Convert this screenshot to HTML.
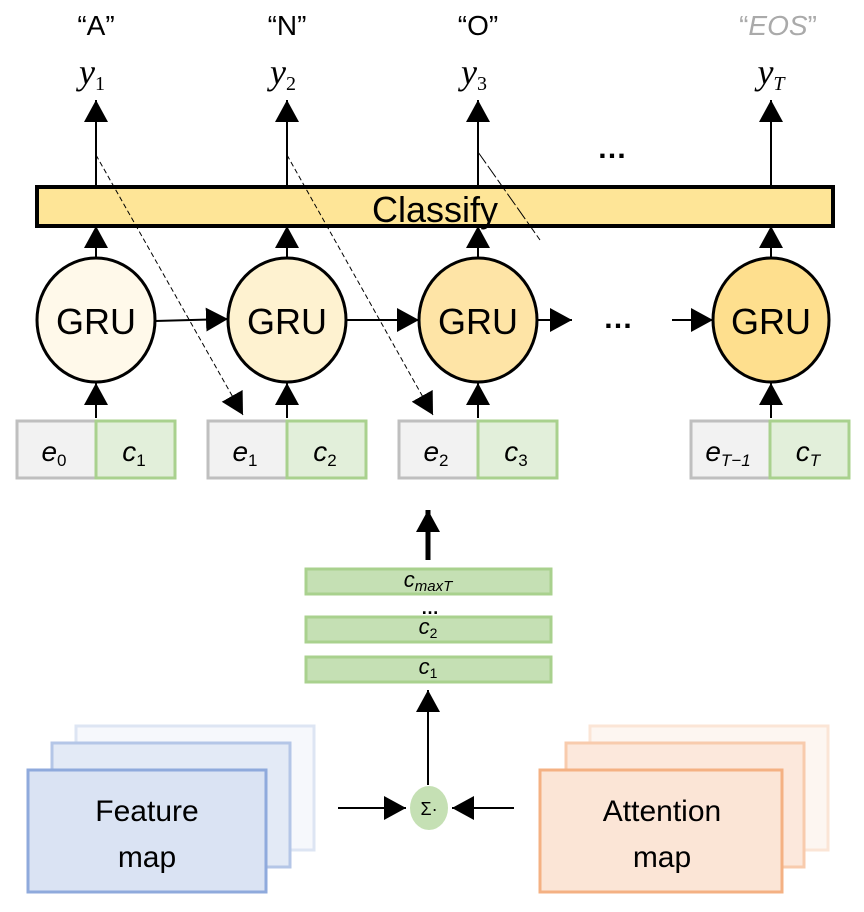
<!DOCTYPE html>
<html><head><meta charset="utf-8"><style>
body{margin:0;background:#fff}
svg{display:block}
text{font-family:"Liberation Sans",sans-serif}
.m{font-family:"Liberation Serif",serif;font-style:italic}
</style></head><body>
<svg width="864" height="912" viewBox="0 0 864 912" xmlns="http://www.w3.org/2000/svg">
<defs>
<marker id="b" markerWidth="22" markerHeight="24" refX="22" refY="12" orient="auto" markerUnits="userSpaceOnUse"><path d="M0,0 L22,12 L0,24 Z" fill="#000"/></marker>
</defs>
<g font-size="28" text-anchor="middle">
<text x="96" y="35">“A”</text><text x="287" y="35">“N”</text><text x="478" y="35">“O”</text>
<text x="778" y="35" fill="#aaa"><tspan>“</tspan><tspan font-style="italic">EOS</tspan><tspan>”</tspan></text>
</g>
<g class="m" font-size="36" text-anchor="middle">
<text x="92" y="84" class="m">y<tspan font-size="20" font-style="normal" dy="6">1</tspan></text>
<text x="283" y="84" class="m">y<tspan font-size="20" font-style="normal" dy="6">2</tspan></text>
<text x="474" y="84" class="m">y<tspan font-size="20" font-style="normal" dy="6">3</tspan></text>
<text x="771" y="84" class="m">y<tspan font-size="20" dy="6">T</tspan></text>
</g>
<g stroke="#000" stroke-width="2" marker-end="url(#b)">
<line x1="96" y1="187" x2="96" y2="100"/><line x1="287" y1="187" x2="287" y2="100"/>
<line x1="478" y1="187" x2="478" y2="100"/><line x1="771" y1="187" x2="771" y2="100"/>
<line x1="96" y1="258" x2="96" y2="226"/><line x1="287" y1="258" x2="287" y2="226"/>
<line x1="478" y1="258" x2="478" y2="226"/><line x1="771" y1="258" x2="771" y2="226"/>
<line x1="96" y1="418" x2="96" y2="383"/><line x1="287" y1="418" x2="287" y2="383"/>
<line x1="478" y1="418" x2="478" y2="383"/><line x1="771" y1="418" x2="771" y2="383"/>
<line x1="155" y1="321" x2="228" y2="319"/><line x1="346" y1="320" x2="419" y2="320"/>
<line x1="537" y1="320" x2="572" y2="320"/><line x1="672" y1="320" x2="713" y2="320"/>
</g>
<text x="612" y="158" font-size="30" text-anchor="middle" font-weight="bold">…</text>
<text x="618" y="328" font-size="30" text-anchor="middle" font-weight="bold">…</text>
<rect x="37" y="187" width="796" height="39" fill="#fee597" stroke="#000" stroke-width="4"/>
<text x="435" y="222" font-size="36" text-anchor="middle">Classify</text>
<ellipse cx="96" cy="320" rx="59" ry="62" fill="#fff9ea" stroke="#000" stroke-width="3"/>
<ellipse cx="287" cy="320" rx="59" ry="62" fill="#fef2d0" stroke="#000" stroke-width="3"/>
<ellipse cx="478" cy="320" rx="59" ry="62" fill="#fee4a6" stroke="#000" stroke-width="3"/>
<ellipse cx="771" cy="320" rx="58" ry="62" fill="#fedf8e" stroke="#000" stroke-width="3"/>
<g font-size="36" text-anchor="middle"><text x="96" y="334">GRU</text><text x="287" y="334">GRU</text><text x="478" y="334">GRU</text><text x="771" y="334">GRU</text></g>
<g stroke="#000" stroke-width="1" stroke-dasharray="5,3" fill="none">
<line x1="96" y1="155" x2="243" y2="415" marker-end="url(#b)"/>
<line x1="287" y1="155" x2="433" y2="415" marker-end="url(#b)"/>
<line x1="478" y1="152" x2="540" y2="240" stroke-dasharray="14,3"/>
</g>
<g stroke-width="3">
<rect x="17" y="421" width="79" height="57" fill="#f2f2f2" stroke="#bfbfbf"/><rect x="96" y="421" width="79" height="57" fill="#e2efda" stroke="#a9d18e"/>
<rect x="208" y="421" width="79" height="57" fill="#f2f2f2" stroke="#bfbfbf"/><rect x="287" y="421" width="79" height="57" fill="#e2efda" stroke="#a9d18e"/>
<rect x="399" y="421" width="79" height="57" fill="#f2f2f2" stroke="#bfbfbf"/><rect x="478" y="421" width="79" height="57" fill="#e2efda" stroke="#a9d18e"/>
<rect x="691" y="421" width="79" height="57" fill="#f2f2f2" stroke="#bfbfbf"/><rect x="770" y="421" width="79" height="57" fill="#e2efda" stroke="#a9d18e"/>
</g>
<g class="m" font-size="28" text-anchor="middle">
<text x="54" y="461">e<tspan font-size="17" font-style="normal" dy="5">0</tspan></text>
<text x="134" y="461">c<tspan font-size="17" font-style="normal" dy="5">1</tspan></text>
<text x="245" y="461">e<tspan font-size="17" font-style="normal" dy="5">1</tspan></text>
<text x="325" y="461">c<tspan font-size="17" font-style="normal" dy="5">2</tspan></text>
<text x="436" y="461">e<tspan font-size="17" font-style="normal" dy="5">2</tspan></text>
<text x="516" y="461">c<tspan font-size="17" font-style="normal" dy="5">3</tspan></text>
<text x="728" y="461">e<tspan font-size="17" dy="5">T−1</tspan></text>
<text x="808" y="461">c<tspan font-size="17" dy="5">T</tspan></text>
</g>
<line x1="428" y1="560" x2="428" y2="510" stroke="#000" stroke-width="5" marker-end="url(#b)"/>
<g fill="#c5e0b4" stroke="#a9d18e" stroke-width="3">
<rect x="306" y="569" width="245" height="25"/><rect x="306" y="617" width="245" height="25"/><rect x="306" y="657" width="245" height="25"/>
</g>
<g class="m" font-size="22" text-anchor="middle">
<text x="428" y="587">c<tspan font-size="15" dy="4">maxT</tspan></text>
<text x="428" y="634">c<tspan font-size="14" font-style="normal" dy="4">2</tspan></text>
<text x="428" y="674">c<tspan font-size="14" font-style="normal" dy="4">1</tspan></text>
</g>
<text x="430" y="614" font-size="18" text-anchor="middle" font-weight="bold">…</text>
<line x1="428" y1="785" x2="428" y2="690" stroke="#000" stroke-width="2" marker-end="url(#b)"/>
<line x1="338" y1="808" x2="406" y2="808" stroke="#000" stroke-width="2" marker-end="url(#b)"/>
<line x1="514" y1="808" x2="452" y2="808" stroke="#000" stroke-width="2" marker-end="url(#b)"/>
<ellipse cx="429" cy="808" rx="19" ry="22" fill="#c5e0b4"/>
<text x="429" y="815" font-size="18" text-anchor="middle">Σ·</text>
<rect x="76" y="726" width="238" height="124" fill="#f6f8fc" stroke="#dde5f3" stroke-width="3"/>
<rect x="52" y="743" width="238" height="124" fill="#e3eaf6" stroke="#b4c6e7" stroke-width="3"/>
<rect x="28" y="770" width="238" height="122" fill="#dae3f3" stroke="#8faadc" stroke-width="3"/>
<rect x="590" y="726" width="238" height="124" fill="#fdf6f1" stroke="#fbe5d6" stroke-width="3"/>
<rect x="566" y="743" width="238" height="124" fill="#fce8dc" stroke="#f8cbad" stroke-width="3"/>
<rect x="540" y="770" width="242" height="122" fill="#fbe5d6" stroke="#f4b183" stroke-width="3"/>
<g font-size="30" text-anchor="middle">
<text x="147" y="821">Feature</text><text x="147" y="867">map</text>
<text x="662" y="821">Attention</text><text x="662" y="867">map</text>
</g>
</svg>
</body></html>
